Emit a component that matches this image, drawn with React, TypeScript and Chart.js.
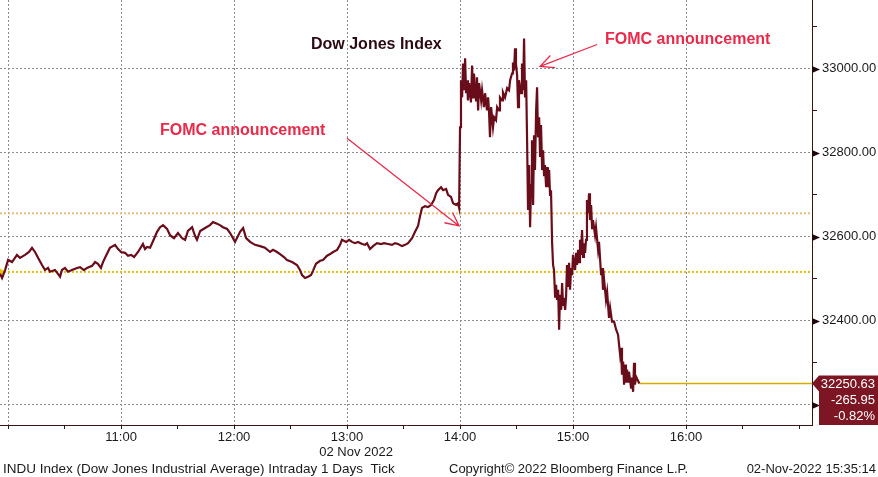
import { useEffect, useRef } from 'react';
import { Chart, registerables } from 'chart.js';

Chart.register(...registerables);

// ---- data (time in minutes after midnight, 02 Nov 2022) ----
const TIMES = [
  595.7, 596.8, 598.4, 600.0, 602.1, 604.7, 606.3, 609.0, 611.1, 612.7,
  614.3, 615.9, 618.0, 619.6, 621.2, 622.3, 624.9, 626.5, 627.6, 628.6,
  630.2, 631.8, 633.9, 636.6, 638.2, 640.3, 641.9, 644.6, 646.2, 647.7,
  649.3, 650.4, 652.0, 654.1, 656.8, 658.4, 660.0, 662.1, 663.7, 665.3,
  666.9, 669.0, 671.6, 672.7, 673.8, 675.4, 677.0, 679.1, 680.7, 682.3,
  684.4, 686.0, 688.1, 690.2, 692.4, 694.0, 695.5, 697.7, 699.3, 700.3,
  702.0, 704.6, 707.2, 708.8, 711.0, 712.5, 714.1, 716.3, 717.9, 720.5,
  723.2, 724.8, 726.4, 728.5, 731.1, 733.8, 736.4, 739.1, 740.7, 742.8,
  744.4, 746.5, 748.1, 750.8, 753.4, 755.0, 756.1, 757.7, 759.3, 760.9,
  761.9, 763.5, 765.7, 767.2, 769.4, 771.0, 772.6, 774.7, 776.3, 777.3,
  779.5, 781.1, 782.6, 784.2, 785.8, 788.0, 789.6, 790.6, 792.2, 793.8,
  795.9, 798.1, 799.6, 801.8, 803.9, 805.5, 807.1, 809.2, 810.8, 812.4,
  814.5, 816.1, 817.7, 818.8, 819.8, 821.4, 823.0, 824.6, 826.2, 827.3,
  828.3, 829.9, 831.0, 832.6, 833.6, 835.2, 836.3, 837.9, 838.9, 839.5,
  840.0, 840.5, 841.1, 841.6, 842.1, 842.7, 843.2, 843.7, 844.2, 844.8,
  845.8, 846.4, 846.9, 847.4, 848.5, 849.0, 849.6, 850.1, 851.2, 851.7,
  852.7, 853.3, 854.3, 854.9, 855.4, 855.9, 856.5, 857.5, 858.1, 859.1,
  859.7, 860.7, 861.2, 862.3, 862.8, 863.9, 865.0, 866.0, 866.6, 867.6,
  868.1, 868.7, 869.2, 869.7, 870.3, 870.8, 871.3, 872.4, 872.9, 873.5,
  874.0, 874.5, 875.1, 875.6, 876.1, 876.7, 877.2, 877.7, 878.2, 878.8,
  879.3, 879.8, 880.4, 880.9, 881.4, 882.0, 882.5, 883.0, 883.6, 884.1,
  884.6, 885.1, 885.7, 886.2, 886.7, 887.3, 887.8, 888.3, 888.9, 889.4,
  889.9, 890.5, 891.0, 891.5, 892.1, 892.6, 893.1, 893.7, 894.2, 894.7,
  895.2, 895.8, 896.3, 896.8, 897.4, 897.9, 898.4, 899.0, 899.5, 900.0,
  901.1, 901.6, 902.1, 902.7, 903.2, 903.7, 904.2, 904.8, 905.3, 905.8,
  906.4, 906.9, 907.4, 908.0, 908.5, 909.0, 909.6, 910.1, 910.6, 911.7,
  912.2, 913.3, 913.8, 914.9, 915.4, 915.9, 916.5, 917.5, 918.1, 919.1,
  919.7, 920.7, 921.8, 922.9, 923.9, 925.0, 925.5, 926.0, 926.6, 927.1,
  927.6, 928.1, 928.7, 929.2, 929.7, 930.8, 931.3, 931.9, 932.4, 932.9,
  933.5, 935.2,
];

const PRICES = [
  32512, 32502, 32521, 32545, 32540, 32557, 32550, 32557, 32564, 32574,
  32564, 32550, 32533, 32521, 32526, 32517, 32521, 32512, 32505, 32521,
  32526, 32517, 32521, 32526, 32528, 32521, 32526, 32531, 32540, 32536,
  32526, 32540, 32555, 32574, 32581, 32571, 32564, 32562, 32555, 32557,
  32552, 32564, 32583, 32571, 32576, 32574, 32590, 32612, 32623, 32628,
  32619, 32604, 32597, 32609, 32597, 32593, 32614, 32623, 32602, 32593,
  32614, 32621, 32628, 32635, 32631, 32628, 32623, 32619, 32609, 32588,
  32612, 32621, 32597, 32588, 32581, 32578, 32574, 32564, 32569, 32564,
  32559, 32552, 32545, 32540, 32533, 32521, 32509, 32502, 32505, 32509,
  32519, 32536, 32543, 32545, 32555, 32559, 32564, 32569, 32581, 32593,
  32588, 32593, 32588, 32585, 32588, 32583, 32581, 32585, 32571, 32578,
  32585, 32583, 32585, 32583, 32581, 32585, 32583, 32578, 32581, 32585,
  32597, 32612, 32626, 32650, 32669, 32673, 32671, 32676, 32688, 32704,
  32711, 32718, 32711, 32714, 32700, 32695, 32680, 32676, 32680, 32669,
  32861, 32973, 32932, 33013, 32949, 33025, 32942, 32973, 32925, 32966,
  32920, 33008, 32932, 32989, 32925, 32980, 32901, 32966, 32925, 32949,
  32909, 32942, 32901, 32932, 32897, 32837, 32909, 32861, 32885, 32878,
  32909, 32901, 32932, 32925, 32944, 32932, 32954, 32949, 32973, 32989,
  33015, 32996, 33049, 33013, 32985, 32909, 32973, 32942, 33013, 32949,
  33072, 32932, 32973, 32830, 32664, 32771, 32623, 32723, 32830, 32676,
  32842, 32759, 32901, 32956, 32837, 32885, 32790, 32866, 32759, 32806,
  32747, 32771, 32718, 32766, 32718, 32759, 32700, 32711, 32585, 32533,
  32521, 32455, 32486, 32450, 32474, 32379, 32462, 32426, 32490, 32438,
  32455, 32426, 32457, 32533, 32481, 32538, 32474, 32526, 32509, 32557,
  32521, 32562, 32533, 32569, 32540, 32593, 32557, 32616, 32552, 32585,
  32562, 32593, 32688, 32657, 32704, 32640, 32676, 32621, 32640, 32604,
  32623, 32569, 32588, 32509, 32526, 32474, 32498, 32450, 32469, 32407,
  32431, 32398, 32398, 32379, 32367, 32319, 32336, 32272, 32303, 32248,
  32296, 32253, 32284, 32255, 32279, 32241, 32265, 32231, 32300, 32248,
  32267, 32250.63,
];

const PREV_CLOSE = 32516.58;
const REF_LEVEL = 32656;
const LAST_PRICE = 32250.63;
const NET_CHANGE = -265.95;
const PCT_CHANGE = -0.82;

const X_MIN = 595.7;
const X_MAX = 1026.9;
const Y_MIN = 32152;
const Y_MAX = 33164;
const X_TICKS = [600, 630, 660, 690, 720, 750, 780, 810, 840, 870, 900, 930, 960, 990, 1020];
const X_GRID = [600, 660, 720, 780, 840, 900, 960];
const X_LABELED = [660, 720, 780, 840, 900, 960];
const Y_TICKS = [32200, 32300, 32400, 32500, 32600, 32700, 32800, 32900, 33000, 33100];
const Y_LABELED = [32200, 32400, 32600, 32800, 33000];

const TITLE = 'Dow Jones Index';
const DATE_LABEL = '02 Nov 2022';
const FOOTER_LEFT = 'INDU Index (Dow Jones Industrial Average) Intraday 1 Days  Tick';
const FOOTER_MID = 'Copyright\u00A9 2022 Bloomberg Finance L.P.';
const FOOTER_RIGHT = '02-Nov-2022 15:35:14';

// annotation: label anchor (time, price), arrow start and tip (time, price)
const ANNOTATION_TEXT = ['FOMC announcement', 'FOMC announcement'];
const ANNOTATION_LABEL_T = [680.7, 917.0];
const ANNOTATION_LABEL_V = [32854, 33070];
const ARROW_FROM_T = [780.0, 912.8];
const ARROW_FROM_V = [32835, 33058];
const ARROW_TIP_T = [839.5, 882.5];
const ARROW_TIP_V = [32626, 33006];

const LINE_COLOR = '#6a0d1b';
const GRID_COLOR = '#8c8c8c';
const AXIS_COLOR = '#3a1414';
const RED = '#ea2a4b';
const BOX_COLOR = '#7b1622';
const FONT = '"Liberation Sans", Arial, sans-serif';

function fmtTime(m: number) {
  const h = Math.floor(m / 60);
  return `${h}:00`;
}

function zeroPadding(s: any) {
  s.paddingTop = 0;
  s.paddingBottom = 0;
  s.paddingLeft = 0;
  s.paddingRight = 0;
}

export default function App() {
  const ref = useRef<HTMLCanvasElement | null>(null);

  useEffect(() => {
    const canvas = ref.current;
    if (!canvas) return;

    const series = TIMES.map((t, i) => ({ x: t, y: PRICES[i] }));
    const lastT = TIMES[TIMES.length - 1];

    const overlay = {
      id: 'overlay',
      afterDraw(chart: any) {
        const ctx = chart.ctx as CanvasRenderingContext2D;
        const xs = chart.scales.x;
        const ys = chart.scales.y;
        const area = chart.chartArea;
        ctx.save();

        // major tick triangles on the right axis
        ctx.fillStyle = '#1e0808';
        for (const v of Y_LABELED) {
          const py = Math.round(ys.getPixelForValue(v)) + 0.5;
          ctx.beginPath();
          ctx.moveTo(area.right, py - 3.5);
          ctx.lineTo(area.right + 8, py);
          ctx.lineTo(area.right, py + 3.5);
          ctx.closePath();
          ctx.fill();
        }

        // last value box
        const py = ys.getPixelForValue(LAST_PRICE);
        const bx = area.right + 7;
        ctx.fillStyle = BOX_COLOR;
        ctx.beginPath();
        ctx.moveTo(area.right, py);
        ctx.lineTo(bx, py - 8);
        ctx.lineTo(chart.width, py - 8);
        ctx.lineTo(chart.width, area.bottom);
        ctx.lineTo(bx, area.bottom);
        ctx.lineTo(bx, py + 8);
        ctx.closePath();
        ctx.fill();
        ctx.fillStyle = '#ffffff';
        ctx.font = `13px ${FONT}`;
        ctx.textAlign = 'right';
        ctx.textBaseline = 'middle';
        ctx.fillText(LAST_PRICE.toFixed(2), chart.width - 3, py + 1);
        ctx.fillText(NET_CHANGE.toFixed(2), chart.width - 3, py + 17);
        ctx.fillText(PCT_CHANGE.toFixed(2) + '%', chart.width - 3, py + 33);

        // title
        ctx.textAlign = 'left';
        ctx.fillStyle = '#2b0a12';
        ctx.font = `bold 16px ${FONT}`;
        ctx.fillText(TITLE, 311, 45);

        // annotations
        for (let i = 0; i < ANNOTATION_TEXT.length; i++) {
          ctx.fillStyle = RED;
          ctx.font = `bold 16px ${FONT}`;
          ctx.textAlign = 'left';
          ctx.fillText(
            ANNOTATION_TEXT[i],
            xs.getPixelForValue(ANNOTATION_LABEL_T[i]),
            ys.getPixelForValue(ANNOTATION_LABEL_V[i])
          );
          const x1 = xs.getPixelForValue(ARROW_FROM_T[i]);
          const y1 = ys.getPixelForValue(ARROW_FROM_V[i]);
          const x2 = xs.getPixelForValue(ARROW_TIP_T[i]);
          const y2 = ys.getPixelForValue(ARROW_TIP_V[i]);
          ctx.strokeStyle = RED;
          ctx.lineWidth = 1.3;
          ctx.beginPath();
          ctx.moveTo(x1, y1);
          ctx.lineTo(x2, y2);
          const ang = Math.atan2(y1 - y2, x1 - x2);
          const len = 15;
          const spread = 0.45;
          ctx.moveTo(x2 + len * Math.cos(ang - spread), y2 + len * Math.sin(ang - spread));
          ctx.lineTo(x2, y2);
          ctx.lineTo(x2 + len * Math.cos(ang + spread), y2 + len * Math.sin(ang + spread));
          ctx.stroke();
        }

        // date label under 13:00
        ctx.fillStyle = '#1a1a1a';
        ctx.font = `13px ${FONT}`;
        ctx.textAlign = 'center';
        ctx.fillText(DATE_LABEL, xs.getPixelForValue(780) + 9, 452);

        // footer
        ctx.textAlign = 'left';
        ctx.font = `13.5px ${FONT}`;
        ctx.fillText(FOOTER_LEFT, 3, 469);
        ctx.font = `13px ${FONT}`;
        ctx.fillText(FOOTER_MID, 449, 469);
        ctx.textAlign = 'right';
        ctx.fillText(FOOTER_RIGHT, chart.width - 2, 469);
        ctx.restore();
      },
    };

    const chart = new Chart(canvas, {
      type: 'line',
      data: {
        datasets: [
          {
            label: 'Previous close',
            data: [
              { x: X_MIN, y: PREV_CLOSE },
              { x: X_MAX, y: PREV_CLOSE },
            ],
            borderColor: '#e3c000',
            borderWidth: 2,
            borderDash: [2, 2],
            pointRadius: [6, 0],
            pointStyle: 'triangle',
            rotation: 90,
            pointBackgroundColor: '#e8c400',
            pointBorderWidth: 0,
            order: 3,
          },
          {
            label: 'Reference',
            data: [
              { x: X_MIN, y: REF_LEVEL },
              { x: X_MAX, y: REF_LEVEL },
            ],
            borderColor: '#e6bf78',
            borderWidth: 2,
            borderDash: [2, 2],
            pointRadius: 0,
            order: 4,
          },
          {
            label: 'Last',
            data: [
              { x: lastT, y: LAST_PRICE },
              { x: X_MAX, y: LAST_PRICE },
            ],
            borderColor: '#d2ad00',
            borderWidth: 1.5,
            pointRadius: 0,
            order: 2,
          },
          {
            label: 'INDU',
            data: series,
            borderColor: LINE_COLOR,
            borderWidth: 2.2,
            pointRadius: 0,
            tension: 0,
            order: 1,
          },
        ],
      },
      options: {
        animation: false,
        responsive: false,
        devicePixelRatio: 1,
        layout: { padding: 0, autoPadding: false },
        plugins: {
          legend: { display: false },
          tooltip: { enabled: false },
          title: { display: false },
        },
        elements: { line: { borderJoinStyle: 'miter' } },
        scales: {
          x: {
            type: 'linear',
            position: 'bottom',
            min: X_MIN,
            max: X_MAX,
            afterBuildTicks: (s: any) => {
              s.ticks = X_TICKS.map((v) => ({ value: v }));
            },
            afterFit: (s: any) => {
              s.height = 52;
              zeroPadding(s);
            },
            grid: {
              color: (c: any) => (c.tick && X_GRID.includes(c.tick.value) ? GRID_COLOR : 'rgba(0,0,0,0)'),
              lineWidth: 1,
              drawTicks: true,
              tickLength: 4,
              tickColor: AXIS_COLOR,
            },
            border: { display: true, color: AXIS_COLOR, width: 1, dash: [2, 2] },
            ticks: {
              autoSkip: false,
              maxRotation: 0,
              padding: 1,
              color: '#1a1a1a',
              font: { family: FONT, size: 13 },
              callback: (v: any) => (X_LABELED.includes(Number(v)) ? fmtTime(Number(v)) : ''),
            },
          },
          y: {
            type: 'linear',
            position: 'right',
            min: Y_MIN,
            max: Y_MAX,
            afterBuildTicks: (s: any) => {
              s.ticks = Y_TICKS.map((v) => ({ value: v }));
            },
            afterFit: (s: any) => {
              s.width = 66;
              zeroPadding(s);
            },
            grid: {
              color: (c: any) => (c.tick && c.tick.value % 200 === 0 ? GRID_COLOR : 'rgba(0,0,0,0)'),
              lineWidth: 1,
              drawTicks: true,
              tickLength: 5,
              tickColor: AXIS_COLOR,
            },
            border: { display: true, color: AXIS_COLOR, width: 1, dash: [2, 2] },
            ticks: {
              autoSkip: false,
              padding: 5,
              color: '#1a1a1a',
              font: { family: FONT, size: 13 },
              callback: (v: any) => (Y_LABELED.includes(Number(v)) ? Number(v).toFixed(2) : ''),
            },
          },
        },
      },
      plugins: [overlay],
    });

    return () => chart.destroy();
  }, []);

  return (
    <div style={{ position: 'fixed', left: 0, top: 0, width: 878, height: 477, background: '#ffffff' }}>
      <canvas ref={ref} width={878} height={477} style={{ width: 878, height: 477, display: 'block' }} />
    </div>
  );
}
